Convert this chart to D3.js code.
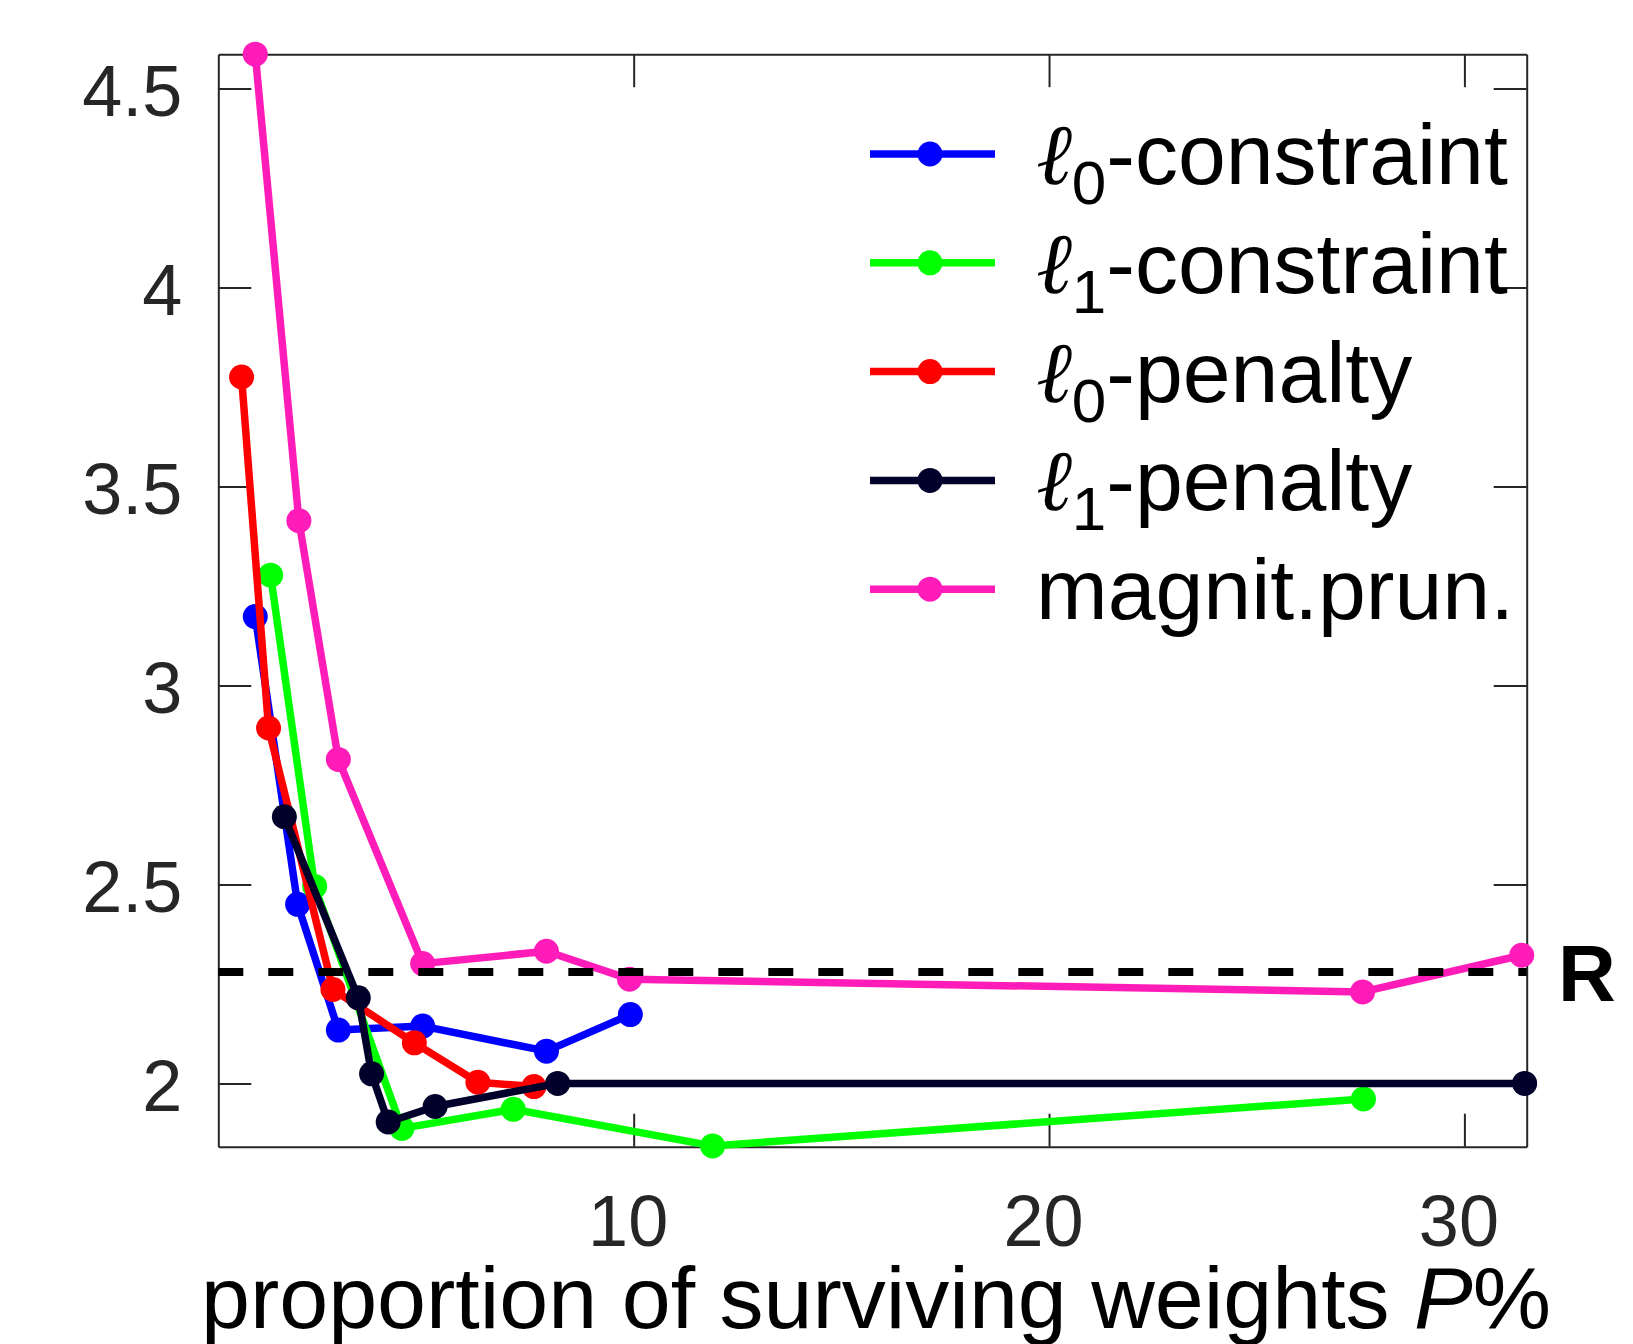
<!DOCTYPE html>
<html>
<head>
<meta charset="utf-8">
<script src="https://cdn.jsdelivr.net/npm/d3@7"></script>
<style>
body { margin: 0; background: #fff; }
text { font-family: "Liberation Sans", Arial, Helvetica, sans-serif; }
</style>
</head>
<body>
<svg id="chart" width="1633" height="1344"></svg>
<script>
// values: x = surviving weights (%), y = error
const l0ConstraintP = [0.89, 1.91, 2.89, 4.92, 7.90, 9.92]
const l0ConstraintErr = [3.173, 2.450, 2.134, 2.144, 2.081, 2.173]

const l1ConstraintP = [1.26, 2.32, 4.42, 7.10, 11.9, 27.57]
const l1ConstraintErr = [3.277, 2.495, 1.887, 1.935, 1.843, 1.961]

const l0PenaltyP = [0.56, 1.21, 2.76, 4.72, 6.25, 7.60]
const l0PenaltyErr = [3.775, 2.893, 2.236, 2.102, 2.003, 1.992]

const l1PenaltyP = [1.59, 3.37, 3.69, 4.09, 5.22, 8.17, 31.45]
const l1PenaltyErr = [2.670, 2.215, 2.024, 1.903, 1.942, 2.000, 2.000]

const magnitP = [0.89, 1.94, 2.89, 4.92, 7.90, 9.90, 27.55, 31.38]
const magnitErr = [4.586, 3.414, 2.814, 2.301, 2.332, 2.262, 2.230, 2.322]

const refR = 2.28

const legendSubs = ["0", "1", "0", "1", null]
const legendRest = ["-constraint", "-constraint", "-penalty", "-penalty", "magnit.prun."]
const seriesColors = ["#0000ff", "#00ff00", "#ff0000", "#00002a", "#ff1cb9"]

const xTicks = [10, 20, 30]
const yTicks = [2, 2.5, 3, 3.5, 4, 4.5]

const xLabel = "proportion of surviving weights "

// build series table
const series = [
    [l0ConstraintP, l0ConstraintErr],
    [l1ConstraintP, l1ConstraintErr],
    [l0PenaltyP, l0PenaltyErr],
    [l1PenaltyP, l1PenaltyErr],
    [magnitP, magnitErr]
].map((s, i) => ({
    pts: s[0].map((p, j) => [p, s[1][j]]),
    color: seriesColors[i],
    sub: legendSubs[i],
    rest: legendRest[i]
}))

const svg = d3.select("#chart")
svg.append("rect").attr("width", 1633).attr("height", 1344).attr("fill", "#fff")

const box = {left: 218.3, right: 1526.7, top: 54.2, bottom: 1146.7}
const tickLen = 33
const axisCol = "#262626"

const x = d3.scaleLinear().domain([0, 31.5]).range([box.left, box.right])
const y = d3.scaleLinear().domain([1.841, 4.586]).range([box.bottom, box.top])

function styleAxis(g) {
    g.select(".domain").attr("stroke", axisCol).attr("stroke-width", 2)
    g.selectAll(".tick line").attr("stroke", axisCol).attr("stroke-width", 2)
    g.selectAll(".tick text").attr("fill", axisCol)
        .style("font-family", '"Liberation Sans", Arial, Helvetica, sans-serif')
        .style("font-size", "72px")
}

// left axis with labels
svg.append("g")
    .attr("transform", `translate(${box.left},0)`)
    .call(d3.axisLeft(y).tickValues(yTicks).tickSizeInner(-tickLen).tickSizeOuter(0)
        .tickPadding(36).tickFormat(d => d.toString()))
    .call(styleAxis)
    .call(g => g.selectAll(".tick text").attr("dy", "0.38em"))

// right axis, ticks only
svg.append("g")
    .attr("transform", `translate(${box.right},0)`)
    .call(d3.axisRight(y).tickValues(yTicks).tickSizeInner(-tickLen).tickSizeOuter(0).tickFormat(""))
    .call(styleAxis)

// bottom axis
svg.append("g")
    .attr("transform", `translate(0,${box.bottom})`)
    .call(d3.axisBottom(x).tickValues(xTicks).tickSizeInner(-tickLen).tickSizeOuter(0)
        .tickPadding(48).tickFormat(d => d.toString()))
    .call(styleAxis)
    .call(g => g.selectAll(".tick text").attr("dx", "-6"))

// top axis
svg.append("g")
    .attr("transform", `translate(0,${box.top})`)
    .call(d3.axisTop(x).tickValues(xTicks).tickSizeInner(-tickLen).tickSizeOuter(0).tickFormat(""))
    .call(styleAxis)

// series
const line = d3.line().x(d => x(d[0])).y(d => y(d[1]))

series.forEach(s => {
    const g = svg.append("g")
    g.append("path")
        .attr("d", line(s.pts))
        .attr("fill", "none")
        .attr("stroke", s.color)
        .attr("stroke-width", 7.5)
        .attr("stroke-linejoin", "round")
    g.selectAll("circle")
        .data(s.pts)
        .join("circle")
        .attr("cx", d => x(d[0]))
        .attr("cy", d => y(d[1]))
        .attr("r", 12.5)
        .attr("fill", s.color)
})

// reference line R
svg.append("line")
    .attr("x1", x(0)).attr("x2", x(31.5))
    .attr("y1", y(refR)).attr("y2", y(refR))
    .attr("stroke", "#000")
    .attr("stroke-width", 8)
    .attr("stroke-dasharray", "25,25")

svg.append("text")
    .attr("x", 1558)
    .attr("y", y(refR) + 29)
    .attr("font-size", 80)
    .attr("font-weight", "bold")
    .attr("fill", "#000")
    .text("R")

// legend
const leg = svg.append("g")
series.forEach((s, i) => {
    const ly = 154 + i * 108.8
    leg.append("line")
        .attr("x1", 870).attr("x2", 995)
        .attr("y1", ly).attr("y2", ly)
        .attr("stroke", s.color).attr("stroke-width", 7.5)
    leg.append("circle")
        .attr("cx", 930).attr("cy", ly).attr("r", 12.5)
        .attr("fill", s.color)

    const t = leg.append("text")
        .attr("x", 1036)
        .attr("y", ly + 30)
        .attr("font-size", 86)
        .attr("fill", "#000")
    if (s.sub !== null) {
        t.append("tspan")
            .style("font-family", '"DejaVu Serif", serif')
            .style("font-style", "italic")
            .text("\u2113")
        t.append("tspan")
            .attr("font-size", 62)
            .attr("dy", 20)
            .text(s.sub)
        t.append("tspan")
            .attr("dy", -20)
            .text(s.rest)
    } else {
        t.text(s.rest)
    }
})

// x axis label
const xl = svg.append("text")
    .attr("x", 876)
    .attr("y", 1328)
    .attr("text-anchor", "middle")
    .attr("font-size", 88)
    .attr("fill", "#000")
xl.append("tspan").text(xLabel)
xl.append("tspan").style("font-style", "italic").text("P")
xl.append("tspan").text("%")
</script>
</body>
</html>
